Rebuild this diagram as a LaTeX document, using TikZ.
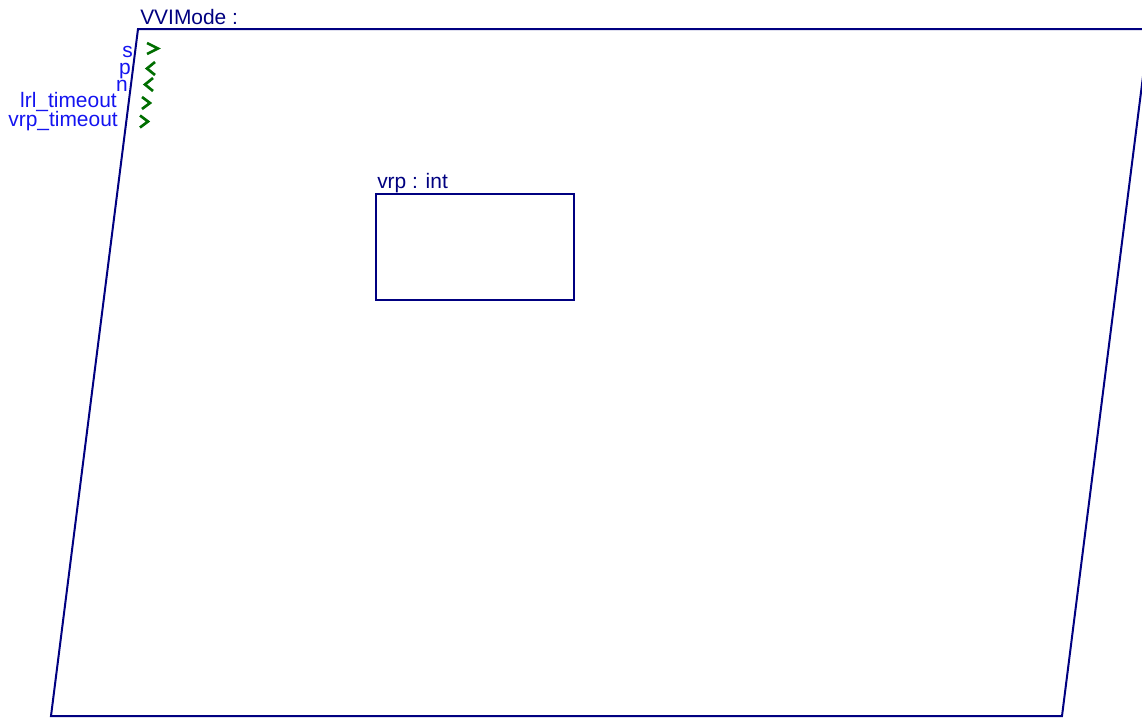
\documentclass[tikz,border=0pt]{standalone}
\usepackage{fontspec}
\setmainfont{Liberation Sans}
\definecolor{navy}{RGB}{0,0,128}
\definecolor{lblue}{RGB}{20,20,240}
\definecolor{pgreen}{RGB}{0,110,0}
\begin{document}
\begin{tikzpicture}[x=0.75pt,y=-0.75pt,
  frame/.style={draw=navy,line width=1.5pt,line join=miter},
  inner/.style={draw=navy,line width=0.8pt,inner sep=0pt,outer sep=0pt,minimum width=148.5pt,minimum height=79.5pt},
  title/.style={font=\fontsize{15.7}{18}\selectfont,text=navy,inner sep=0pt,anchor=base west},
  port/.style={font=\fontsize{15.7}{18}\selectfont,text=lblue,inner sep=0pt,anchor=base east},
  chev/.style={draw=pgreen,line width=2pt,line cap=butt,line join=miter}]
\useasboundingbox (0,0) rectangle (1142,718);
\clip (0,0) rectangle (1142,718);
% outer parallelogram
\coordinate (tl) at (138,29);
\coordinate (tr) at (1149,29);
\coordinate (br) at (1062,716);
\coordinate (bl) at (51,716);
\draw[frame] (tl) -- (tr) -- (br) -- (bl) -- cycle;
\node[title] (mode) at (140,24) {VVIMode :};
% ports
\node[port] (ls) at (133,57) {s};
\node[port] (lp) at (131,74.5) {p};
\node[port] (ln) at (128,91.5) {n};
\node[port] (llrl) at (117,107) {lrl\_timeout};
\node[port] (lvrp) at (118,126) {vrp\_timeout};
\draw[chev] (147,43) -- (158,48.5) -- (147,54);
\draw[chev] (155,62) -- (147,68.5) -- (155,75);
\draw[chev] (153,78) -- (145,84.5) -- (153,91);
\draw[chev] (142,97) -- (150,103) -- (142,109);
\draw[chev] (140,115.5) -- (148,121.5) -- (140,127.5);
% inner box
\node[inner] (vrpbox) at (475,247) {};
\node[title] (vrplbl) at (377,188) {vrp : int};
\end{tikzpicture}
\end{document}
